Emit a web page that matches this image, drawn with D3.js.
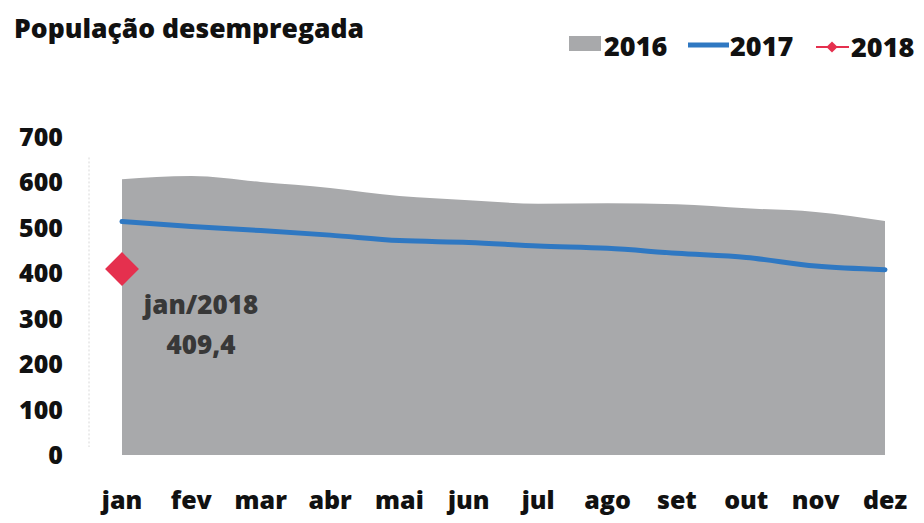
<!DOCTYPE html>
<html>
<head>
<meta charset="utf-8">
<script src="https://cdn.jsdelivr.net/npm/d3@7"></script>
<style>
  body { margin: 0; background: #fff; }
  text { font-family: "Open Sans", Lato, sans-serif; font-weight: 800; }
</style>
</head>
<body>
<svg width="924" height="523"></svg>
<script>
// months (x categories)
var months = ["jan", "fev", "mar", "abr", "mai", "jun", "jul", "ago", "set", "out", "nov", "dez"];
// unemployed population, thousands
var values2016 = [607, 614, 601, 588, 570, 561, 553, 554, 552, 543, 535, 515];
var values2017 = [514, 503, 494, 484, 472, 468, 460, 455, 444, 435, 416, 408];
var values2018 = [409.4];
var yTicks = [0, 100, 200, 300, 400, 500, 600, 700];

var svg = d3.select("svg");

// scales
var x = d3.scalePoint()
    .domain(months)
    .range([122, 885]);

var y = d3.scaleLinear()
    .domain([0, 700])
    .range([455, 137]);

// title
svg.append("text")
    .attr("x", 14)
    .attr("y", 38)
    .attr("font-size", 26.5)
    .attr("fill", "#111")
    .text("População desempregada");

// faint y axis line
svg.append("line")
    .attr("x1", 89).attr("x2", 89)
    .attr("y1", y(600) - 25).attr("y2", y(0) - 8)
    .attr("stroke", "#d8d8d8")
    .attr("stroke-dasharray", "2,2");

// y tick labels
svg.append("g")
    .selectAll("text")
    .data(yTicks)
    .enter().append("text")
    .attr("x", 63)
    .attr("y", function (d) { return y(d); })
    .attr("dy", "0.36em")
    .attr("text-anchor", "end")
    .attr("font-size", 25)
    .attr("fill", "#111")
    .text(function (d) { return d; });

// x tick labels
svg.append("g")
    .selectAll("text")
    .data(months)
    .enter().append("text")
    .attr("x", function (d) { return x(d); })
    .attr("y", 509)
    .attr("text-anchor", "middle")
    .attr("font-size", 25)
    .attr("fill", "#111")
    .text(function (d) { return d; });

// 2016 area
var area = d3.area()
    .x(function (d, i) { return x(months[i]); })
    .y0(y(0))
    .y1(function (d) { return y(d); })
    .curve(d3.curveMonotoneX);

svg.append("path")
    .datum(values2016)
    .attr("d", area)
    .attr("fill", "#a8a9ab");

// 2017 line
var line = d3.line()
    .x(function (d, i) { return x(months[i]); })
    .y(function (d) { return y(d); })
    .curve(d3.curveMonotoneX);

svg.append("path")
    .datum(values2017)
    .attr("d", line)
    .attr("fill", "none")
    .attr("stroke", "#2f78c2")
    .attr("stroke-width", 5)
    .attr("stroke-linecap", "round");

// 2018 point
var diamond = d3.symbol().type(d3.symbolDiamond2).size(730);

svg.selectAll(".p2018")
    .data(values2018)
    .enter().append("path")
    .attr("class", "p2018")
    .attr("transform", function (d, i) { return "translate(" + x(months[i]) + "," + y(d) + ")"; })
    .attr("d", diamond)
    .attr("fill", "#e5304e");

// label for the 2018 point
var label = svg.append("text")
    .attr("x", 201)
    .attr("y", y(values2018[0]) + 45)
    .attr("text-anchor", "middle")
    .attr("font-size", 26)
    .attr("fill", "#383838");
label.append("tspan")
    .attr("x", 201)
    .text("jan/2018");
label.append("tspan")
    .attr("x", 201)
    .attr("dy", 40)
    .text(d3.format(",.1f")(values2018[0]).replace(".", ","));

// legend
var legend = svg.append("g").attr("font-size", 27).attr("fill", "#111");

legend.append("rect")
    .attr("x", 569).attr("y", 36)
    .attr("width", 32).attr("height", 15)
    .attr("fill", "#a8a9ab");
legend.append("text").attr("x", 604).attr("y", 56).text("2016");

legend.append("line")
    .attr("x1", 688).attr("x2", 729)
    .attr("y1", 45).attr("y2", 45)
    .attr("stroke", "#2f78c2")
    .attr("stroke-width", 5);
legend.append("text").attr("x", 730).attr("y", 56).text("2017");

legend.append("line")
    .attr("x1", 816).attr("x2", 849)
    .attr("y1", 47).attr("y2", 47)
    .attr("stroke", "#e5304e")
    .attr("stroke-width", 2);
legend.append("path")
    .attr("transform", "translate(832,47)")
    .attr("d", d3.symbol().type(d3.symbolDiamond2).size(80))
    .attr("fill", "#e5304e");
legend.append("text").attr("x", 851).attr("y", 57).text("2018");
</script>
</body>
</html>
